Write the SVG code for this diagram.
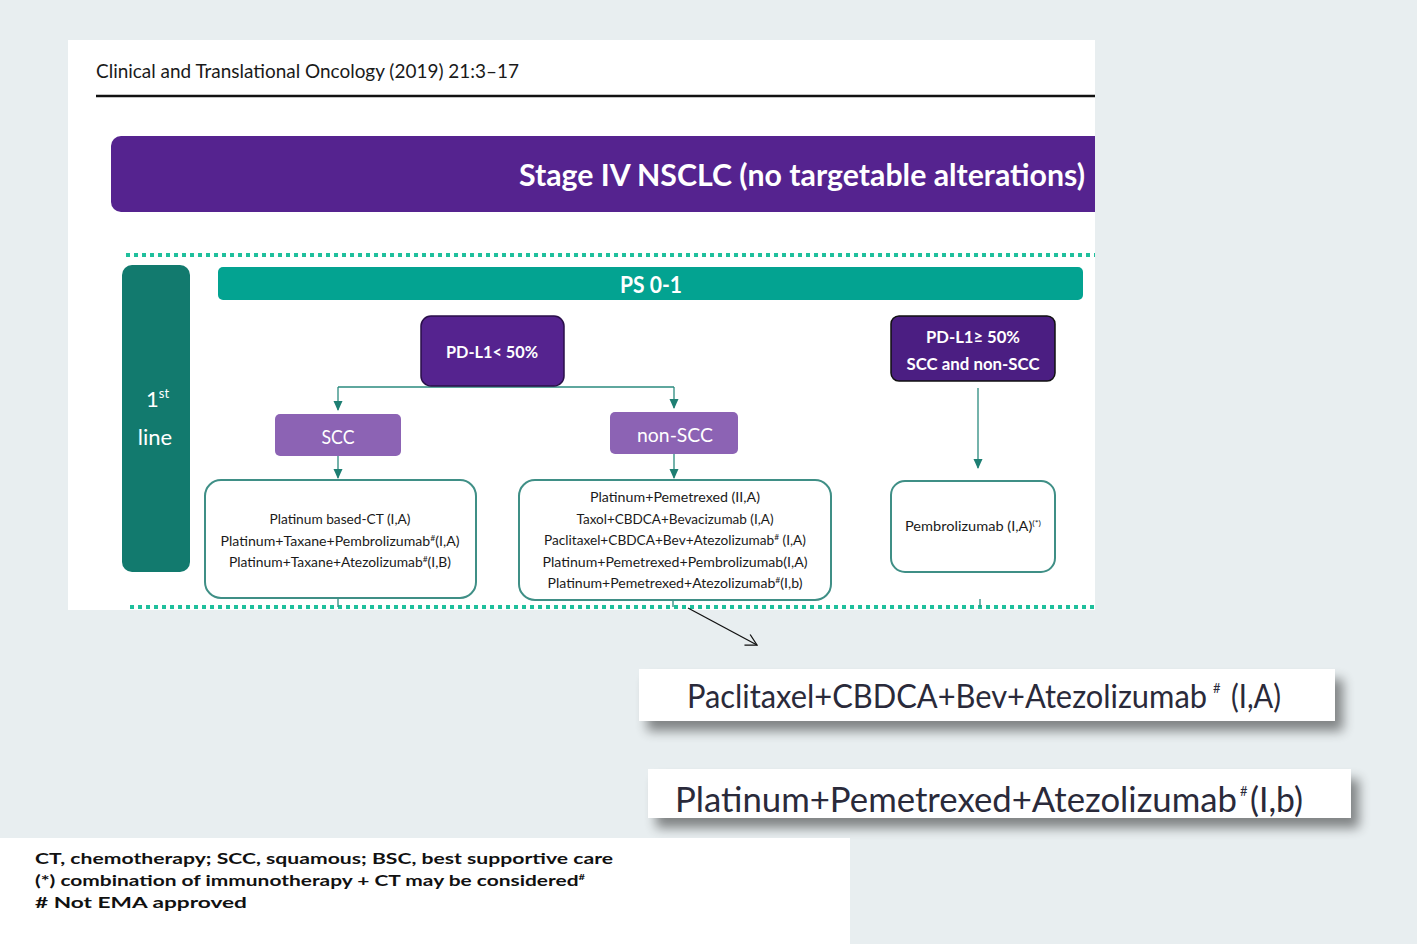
<svg xmlns="http://www.w3.org/2000/svg" width="1417" height="944" viewBox="0 0 1417 944">
<defs>
<style>
.t{font-family:Lato,"Liberation Sans",sans-serif;}
.w{fill:#fff;font-weight:bold;text-anchor:middle;}
.k{fill:#1a1a1a;text-anchor:middle;font-size:13px;}
.res{fill:#fff;stroke:#3f8f86;stroke-width:2;}
.con{stroke:#2a8a7e;stroke-width:1.3;fill:none;}
.dot{stroke:#1fbf9c;stroke-width:4;stroke-dasharray:4 4;fill:none;}
.foot{fill:#111;font-weight:bold;font-size:15px;}
.big{fill:#2a2a3a;}
</style>
<marker id="tri" markerWidth="10" markerHeight="10" refX="9" refY="5" orient="auto" markerUnits="userSpaceOnUse" viewBox="0 0 10 10">
<path d="M0,0.5 L10,5 L0,9.5 Z" fill="#1e7f73"/>
</marker>
<marker id="open" markerWidth="14" markerHeight="14" refX="13" refY="7" orient="auto" markerUnits="userSpaceOnUse" viewBox="0 0 14 14">
<path d="M2,1 L13,7 L2,13" fill="none" stroke="#111" stroke-width="1.3"/>
</marker>
<filter id="sh" x="-10%" y="-50%" width="125%" height="220%">
<feGaussianBlur in="SourceAlpha" stdDeviation="6"/>
<feOffset dx="8" dy="10" result="b"/>
<feComponentTransfer><feFuncA type="linear" slope="0.45"/></feComponentTransfer>
<feMerge><feMergeNode/><feMergeNode in="SourceGraphic"/></feMerge>
</filter>
</defs>
<rect x="0" y="0" width="1417" height="944" fill="#e8eef0"/>
<rect x="68" y="40" width="1027" height="570" fill="#fff"/>
<g id="header">
<text class="t" x="96" y="78" font-size="20" fill="#1a1a1a" textLength="423" lengthAdjust="spacingAndGlyphs">Clinical and Translational Oncology (2019) 21:3–17</text>
<line x1="96" y1="96" x2="1095" y2="96" stroke="#111" stroke-width="2.5"/>
</g>
<g id="title">
<path d="M121,136 H1095 V212 H121 A10,10 0 0 1 111,202 V146 A10,10 0 0 1 121,136 Z" fill="#55238f"/>
<text class="t w" x="802" y="186" font-size="30" textLength="566" lengthAdjust="spacingAndGlyphs">Stage IV NSCLC (no targetable alterations)</text>
</g>
<g id="separators">
<line class="dot" x1="126" y1="255" x2="1095" y2="255"/>
<line class="dot" x1="130" y1="607" x2="1095" y2="607"/>
</g>
<g id="line-label">
<rect x="122" y="265" width="68" height="307" rx="10" fill="#127a6e"/>
<text class="t" x="146" y="407" font-size="22" fill="#fff">1<tspan font-size="13" dy="-9">st</tspan></text>
<text class="t" x="155" y="445" font-size="22" fill="#fff" text-anchor="middle">line</text>
</g>
<g id="ps">
<rect x="218" y="267" width="865" height="33" rx="5" fill="#03a391"/>
<text class="t w" x="651" y="293" font-size="22" textLength="62" lengthAdjust="spacingAndGlyphs">PS 0-1</text>
</g>
<g id="connectors">
<path class="con" d="M338,387 H674"/>
<line class="con" x1="338" y1="387" x2="338" y2="410" marker-end="url(#tri)"/>
<line class="con" x1="674" y1="387" x2="674" y2="408" marker-end="url(#tri)"/>
<line class="con" x1="338" y1="456" x2="338" y2="478" marker-end="url(#tri)"/>
<line class="con" x1="674" y1="454" x2="674" y2="478" marker-end="url(#tri)"/>
<line class="con" x1="978" y1="388" x2="978" y2="468" marker-end="url(#tri)"/>
<line class="con" x1="338" y1="598" x2="338" y2="607" stroke-width="1"/>
<line class="con" x1="673" y1="600" x2="673" y2="607" stroke-width="1"/>
<line class="con" x1="980" y1="599" x2="980" y2="607" stroke-width="1" stroke="#888"/>
<line x1="688" y1="608" x2="757" y2="645" stroke="#111" stroke-width="1.3" marker-end="url(#open)"/>
</g>
<g id="pdl1-low">
<rect x="421" y="316" width="143" height="70" rx="10" fill="#55238f" stroke="#2a0f4a" stroke-width="1.5"/>
<text class="t w" x="492" y="358" font-size="17" textLength="92" lengthAdjust="spacingAndGlyphs">PD-L1&lt; 50%</text>
</g>
<g id="scc">
<rect x="275" y="414" width="126" height="42" rx="5" fill="#8c63b4"/>
<text class="t" x="338" y="444" font-size="20" fill="#fff" text-anchor="middle" textLength="33" lengthAdjust="spacingAndGlyphs">SCC</text>
</g>
<g id="non-scc">
<rect x="610" y="412" width="128" height="42" rx="5" fill="#8c63b4"/>
<text class="t" x="675" y="442" font-size="20" fill="#fff" text-anchor="middle" textLength="76" lengthAdjust="spacingAndGlyphs">non-SCC</text>
</g>
<g id="scc-regimens">
<rect class="res" x="205" y="480" width="271" height="118" rx="16"/>
<text class="t k" x="340" y="524" textLength="141" lengthAdjust="spacingAndGlyphs">Platinum based-CT (I,A)</text>
<text class="t k" x="340" y="546" textLength="239" lengthAdjust="spacingAndGlyphs">Platinum+Taxane+Pembrolizumab<tspan font-size="8" dy="-5">#</tspan><tspan dy="5">(I,A)</tspan></text>
<text class="t k" x="340" y="567" textLength="222" lengthAdjust="spacingAndGlyphs">Platinum+Taxane+Atezolizumab<tspan font-size="8" dy="-5">#</tspan><tspan dy="5">(I,B)</tspan></text>
</g>
<g id="nonscc-regimens">
<rect class="res" x="519" y="480" width="312" height="120" rx="16"/>
<text class="t k" x="675" y="502" textLength="170" lengthAdjust="spacingAndGlyphs">Platinum+Pemetrexed (II,A)</text>
<text class="t k" x="675" y="524" textLength="197" lengthAdjust="spacingAndGlyphs">Taxol+CBDCA+Bevacizumab (I,A)</text>
<text class="t k" x="675" y="545" textLength="262" lengthAdjust="spacingAndGlyphs">Paclitaxel+CBDCA+Bev+Atezolizumab<tspan font-size="8" dy="-5">#</tspan><tspan dy="5"> (I,A)</tspan></text>
<text class="t k" x="675" y="567" textLength="265" lengthAdjust="spacingAndGlyphs">Platinum+Pemetrexed+Pembrolizumab(I,A)</text>
<text class="t k" x="675" y="588" textLength="255" lengthAdjust="spacingAndGlyphs">Platinum+Pemetrexed+Atezolizumab<tspan font-size="8" dy="-5">#</tspan><tspan dy="5">(I,b)</tspan></text>
</g>
<g id="pdl1-high">
<rect x="891" y="316" width="164" height="65" rx="8" fill="#4b1e82" stroke="#111" stroke-width="1.5"/>
<text class="t w" x="973" y="343" font-size="17" textLength="94" lengthAdjust="spacingAndGlyphs">PD-L1≥ 50%</text>
<text class="t w" x="973" y="370" font-size="17" textLength="133" lengthAdjust="spacingAndGlyphs">SCC and non-SCC</text>
</g>
<g id="pembro">
<rect class="res" x="891" y="481" width="164" height="91" rx="14"/>
<text class="t k" x="973" y="531" textLength="136" lengthAdjust="spacingAndGlyphs">Pembrolizumab (I,A)<tspan font-size="8" dy="-5">(*)</tspan></text>
</g>
<g id="callout-1">
<rect x="639" y="669" width="696" height="52" fill="#fff" filter="url(#sh)"/>
<text class="t big" x="687" y="708" font-size="32" textLength="520" lengthAdjust="spacingAndGlyphs">Paclitaxel+CBDCA+Bev+Atezolizumab</text>
<text class="t big" x="1213" y="693" font-size="13">#</text>
<text class="t big" x="1231" y="708" font-size="32" textLength="50" lengthAdjust="spacingAndGlyphs">(I,A)</text>
</g>
<g id="callout-2">
<rect x="648" y="769" width="703" height="49" fill="#fff" filter="url(#sh)"/>
<text class="t big" x="675" y="812" font-size="34" textLength="562" lengthAdjust="spacingAndGlyphs">Platinum+Pemetrexed+Atezolizumab</text>
<text class="t big" x="1240" y="796" font-size="13">#</text>
<text class="t big" x="1250" y="812" font-size="34" textLength="53" lengthAdjust="spacingAndGlyphs">(I,b)</text>
</g>
<g id="footnote">
<rect x="0" y="838" width="850" height="106" fill="#fff"/>
<text class="t foot" x="35" y="864" textLength="578" lengthAdjust="spacingAndGlyphs">CT, chemotherapy; SCC, squamous; BSC, best supportive care</text>
<text class="t foot" x="35" y="886" textLength="550" lengthAdjust="spacingAndGlyphs">(*) combination of immunotherapy + CT may be considered<tspan font-size="8" dy="-6">#</tspan></text>
<text class="t foot" x="35" y="908" textLength="212" lengthAdjust="spacingAndGlyphs"># Not EMA approved</text>
</g>
</svg>
